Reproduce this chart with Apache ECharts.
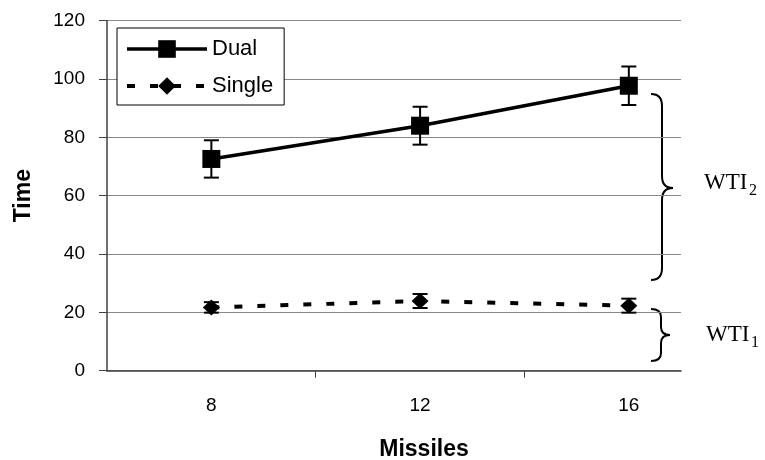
<!DOCTYPE html>
<html>
<head>
<meta charset="utf-8">
<script src="https://cdn.jsdelivr.net/npm/echarts@6/dist/echarts.min.js"></script>
<style>html,body{margin:0;padding:0;background:#fff}#c{width:765px;height:460px}</style>
</head>
<body>
<div id="c"></div>
<script>
const missiles = [8, 12, 16];
const dualTime = [72.6, 84.0, 97.7];
const dualErr = [6.4, 6.5, 6.6];
const singleTime = [21.7, 23.9, 22.3];
const singleErr = [1.8, 2.4, 2.4];
const xLabelValues = [8, 12, 16];
const xTickValues = [10, 14];
const seriesNames = ['Dual', 'Single'];

const chart = echarts.init(document.getElementById('c'));

function errRender(params, api) {
  const x = api.value(0), y = api.value(1), e = api.value(2);
  const top = api.coord([x, y + e]);
  const bot = api.coord([x, y - e]);
  const w = 7.5;
  const st = { stroke: '#000', lineWidth: 2 };
  return {
    type: 'group',
    children: [
      { type: 'line', shape: { x1: top[0], y1: top[1], x2: bot[0], y2: bot[1] }, style: st },
      { type: 'line', shape: { x1: top[0] - w, y1: top[1], x2: top[0] + w, y2: top[1] }, style: st },
      { type: 'line', shape: { x1: bot[0] - w, y1: bot[1], x2: bot[0] + w, y2: bot[1] }, style: st }
    ]
  };
}

function brace(x0, x1, x2, top, mid, bot, r) {
  const st = { stroke: '#000', lineWidth: 2, fill: null };
  const bz = (a, b, c, d, cx, cy) => ({ type: 'bezierCurve', shape: { x1: a, y1: b, x2: c, y2: d, cpx1: cx, cpy1: cy }, style: st });
  const ln = (a, b, c, d) => ({ type: 'line', shape: { x1: a, y1: b, x2: c, y2: d }, style: st });
  return {
    type: 'group',
    children: [
      bz(x0, top, x1, top + r, x1, top),
      ln(x1, top + r, x1, mid - r),
      bz(x1, mid - r, x2, mid, x1, mid),
      bz(x2, mid, x1, mid + r, x1, mid),
      ln(x1, mid + r, x1, bot - r),
      bz(x1, bot - r, x0, bot, x1, bot)
    ]
  };
}

const labelFont = '"Liberation Sans", Arial, sans-serif';
const serifFont = '"Liberation Serif", "Times New Roman", serif';

chart.setOption({
  animation: false,
  backgroundColor: '#fff',
  grid: { left: 107, right: 84, top: 20.7, bottom: 89.3, containLabel: false, outerBoundsMode: 'none' },
  legend: {
    orient: 'vertical',
    left: 117, top: 28,
    data: seriesNames,
    itemWidth: 80, itemHeight: 22, itemGap: 15,
    padding: [10, 11, 8, 8],
    backgroundColor: '#fff',
    borderColor: '#000', borderWidth: 1, borderRadius: 0,
    lineStyle: { width: 'inherit' },
    textStyle: { fontFamily: labelFont, fontSize: 22, color: '#000' }
  },
  xAxis: {
    type: 'value', min: 6, max: 17,
    name: 'Missiles', nameLocation: 'middle', nameGap: 67,
    nameTextStyle: { fontFamily: labelFont, fontSize: 23, fontWeight: 'bold', color: '#000', padding: [0, 0, 0, 60] },
    axisLine: { show: true, lineStyle: { color: '#404040', width: 1.5 } },
    axisTick: { show: true, customValues: xTickValues, length: 7, inside: false, lineStyle: { color: '#404040' } },
    axisLabel: { customValues: xLabelValues, margin: 26, fontFamily: labelFont, fontSize: 19, color: '#000' },
    splitLine: { show: false }
  },
  yAxis: {
    type: 'value', min: 0, max: 120, interval: 20,
    name: 'Time', nameLocation: 'middle', nameGap: 72, nameRotate: 90,
    nameTextStyle: { fontFamily: labelFont, fontSize: 23, fontWeight: 'bold', color: '#000' },
    axisLine: { show: true, lineStyle: { color: '#404040', width: 1.5 } },
    axisTick: { show: true, length: 8, lineStyle: { color: '#404040' } },
    axisLabel: { margin: 22, fontFamily: labelFont, fontSize: 19, color: '#000' },
    splitLine: { show: true, lineStyle: { color: '#888', width: 1 } }
  },
  series: [
    {
      name: 'Dual', type: 'line',
      data: missiles.map((m, i) => [m, dualTime[i]]),
      symbol: 'rect', symbolSize: 18,
      lineStyle: { color: '#000', width: 3.5 },
      itemStyle: { color: '#000' },
      z: 3
    },
    {
      name: 'Single', type: 'line',
      data: missiles.map((m, i) => [m, singleTime[i]]),
      symbol: 'diamond', symbolSize: [17, 16],
      lineStyle: { color: '#000', width: 4, type: [8, 15] },
      itemStyle: { color: '#000' },
      z: 3
    },
    {
      name: 'DualErr', type: 'custom', renderItem: errRender,
      data: missiles.map((m, i) => [m, dualTime[i], dualErr[i]]),
      z: 2
    },
    {
      name: 'SingleErr', type: 'custom', renderItem: errRender,
      data: missiles.map((m, i) => [m, singleTime[i], singleErr[i]]),
      z: 2
    }
  ],
  graphic: [
    brace(651, 662, 673, 94, 188, 280, 12),
    brace(651, 661, 670, 309, 335, 361, 8),
    { type: 'text', x: 704, y: 171, style: { text: 'WTI', font: '23px ' + serifFont, fill: '#000' } },
    { type: 'text', x: 749, y: 183, style: { text: '2', font: '16px ' + serifFont, fill: '#000' } },
    { type: 'text', x: 706, y: 323, style: { text: 'WTI', font: '23px ' + serifFont, fill: '#000' } },
    { type: 'text', x: 751, y: 335, style: { text: '1', font: '16px ' + serifFont, fill: '#000' } }
  ]
});
</script>
</body>
</html>
